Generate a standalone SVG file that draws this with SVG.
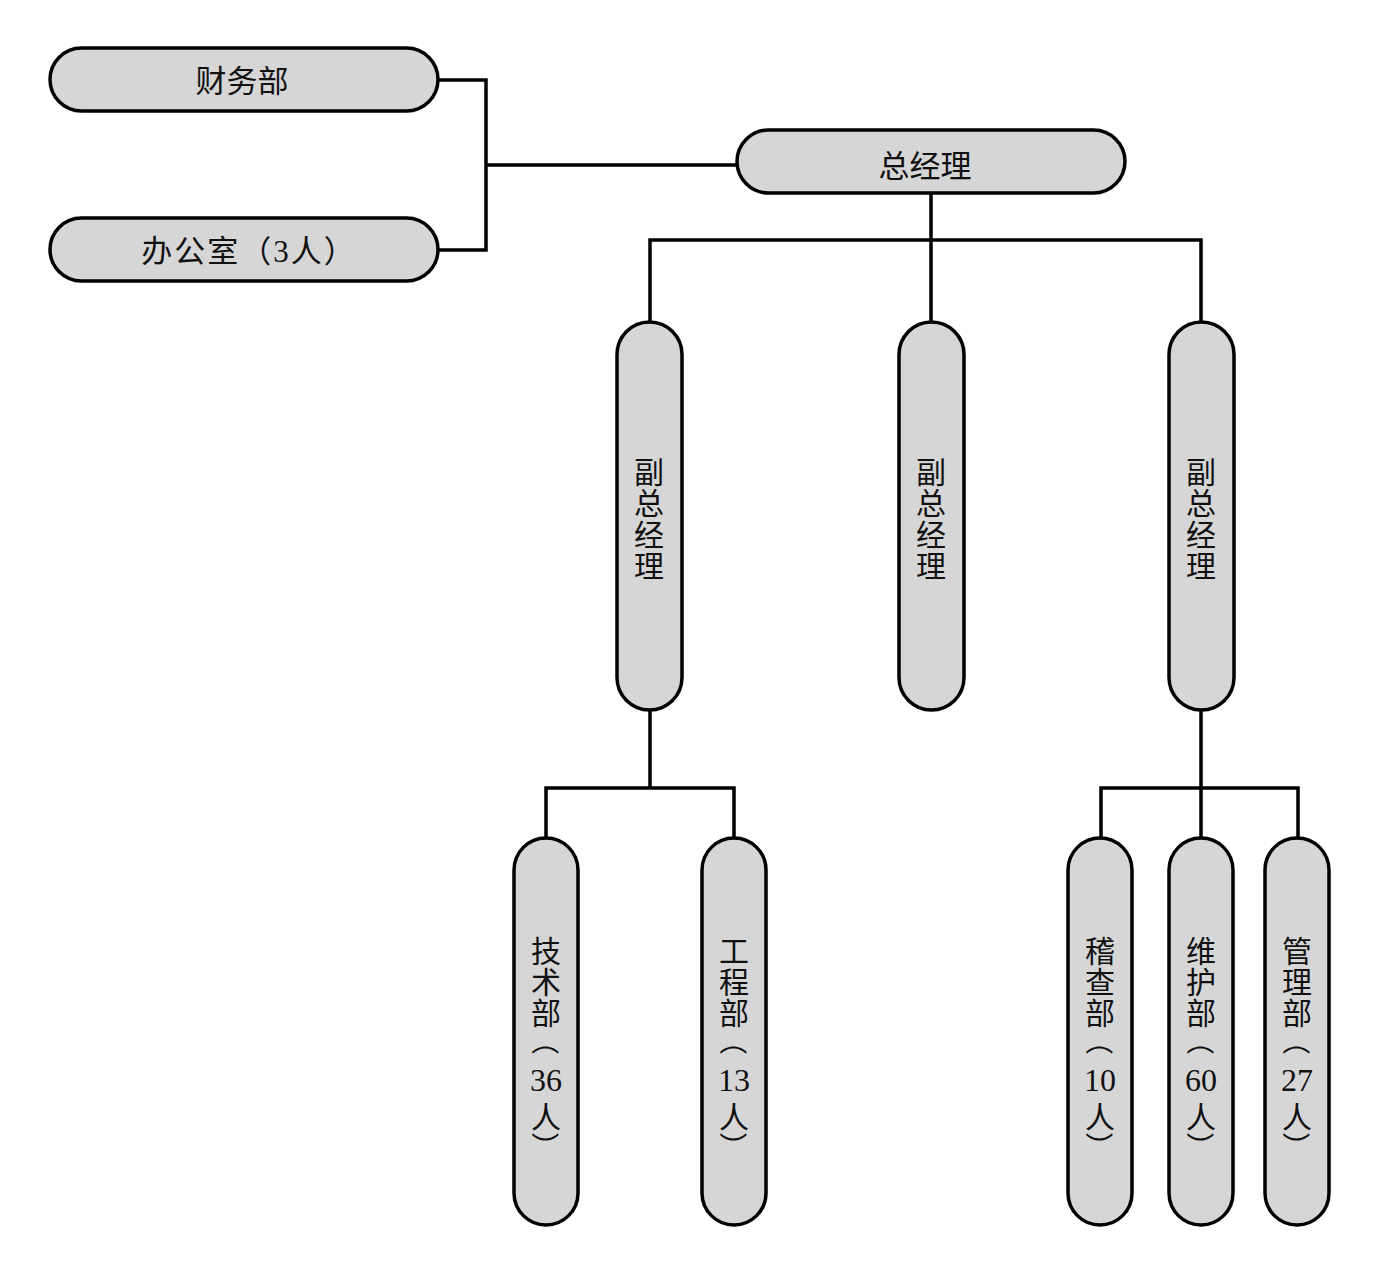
<svg xmlns="http://www.w3.org/2000/svg" width="1382" height="1264" viewBox="0 0 1382 1264">
<style>
.box{fill:#d6d6d6;stroke:#000;stroke-width:3.5}
.ln{fill:none;stroke:#000;stroke-width:3.5;stroke-linejoin:miter}
text{font-family:"Liberation Serif","Noto Sans CJK SC",serif;font-size:30px;fill:#111;text-anchor:middle;dominant-baseline:central}
.h{font-size:31px}
.d{font-family:"Liberation Serif",serif;font-size:32px}
.p{font-family:"Noto Sans CJK SC",sans-serif;font-size:28px}
</style>
<rect width="1382" height="1264" fill="#fff"/>
<g id="connectors">
<path class="ln" d="M438 80H486V250H438M486 165H737"/>
<path class="ln" d="M931 193V240M650 322V240H1201V322M931 240V322"/>
<path class="ln" d="M650 710V788M546 838V788H734V838"/>
<path class="ln" d="M1201 710V838M1101 838V788H1298V838"/>
</g>
<g id="n-caiwu"><rect class="box" x="50" y="48" width="388" height="63" rx="31.5"/><text class="h" x="242" y="81">财务部</text></g>
<g id="n-bangong"><rect class="box" x="50" y="218" width="388" height="63" rx="31.5"/><text class="h" x="249" y="251" letter-spacing="2">办公室（<tspan font-family="Liberation Serif">3</tspan>人）</text></g>
<g id="n-zong"><rect class="box" x="737" y="130" width="388" height="63" rx="31.5"/><text class="h" x="925" y="166">总经理</text></g>
<g id="n-vp1"><rect class="box" x="617" y="322" width="65" height="388" rx="32.5"/>
<text x="649" y="472">副</text><text x="649" y="503">总</text><text x="649" y="535">经</text><text x="649" y="566">理</text></g>
<g id="n-vp2"><rect class="box" x="899" y="322" width="65" height="388" rx="32.5"/>
<text x="931" y="472">副</text><text x="931" y="503">总</text><text x="931" y="535">经</text><text x="931" y="566">理</text></g>
<g id="n-vp3"><rect class="box" x="1169" y="322" width="65" height="388" rx="32.5"/>
<text x="1201" y="472">副</text><text x="1201" y="503">总</text><text x="1201" y="535">经</text><text x="1201" y="566">理</text></g>
<g id="n-jishu"><rect class="box" x="514" y="838" width="64" height="387" rx="32"/>
<text x="546" y="951">技</text><text x="546" y="982">术</text><text x="546" y="1013">部</text><text class="p" x="546" y="1041" transform="rotate(90 546 1041)">（</text><text class="d" x="546" y="1080">36</text><text x="546" y="1117">人</text><text class="p" x="546" y="1146" transform="rotate(90 546 1146)">）</text></g>
<g id="n-gongcheng"><rect class="box" x="702" y="838" width="64" height="387" rx="32"/>
<text x="734" y="951">工</text><text x="734" y="982">程</text><text x="734" y="1013">部</text><text class="p" x="734" y="1041" transform="rotate(90 734 1041)">（</text><text class="d" x="734" y="1080">13</text><text x="734" y="1117">人</text><text class="p" x="734" y="1146" transform="rotate(90 734 1146)">）</text></g>
<g id="n-jicha"><rect class="box" x="1068" y="838" width="64" height="387" rx="32"/>
<text x="1100" y="951">稽</text><text x="1100" y="982">查</text><text x="1100" y="1013">部</text><text class="p" x="1100" y="1041" transform="rotate(90 1100 1041)">（</text><text class="d" x="1100" y="1080">10</text><text x="1100" y="1117">人</text><text class="p" x="1100" y="1146" transform="rotate(90 1100 1146)">）</text></g>
<g id="n-weihu"><rect class="box" x="1169" y="838" width="64" height="387" rx="32"/>
<text x="1201" y="951">维</text><text x="1201" y="982">护</text><text x="1201" y="1013">部</text><text class="p" x="1201" y="1041" transform="rotate(90 1201 1041)">（</text><text class="d" x="1201" y="1080">60</text><text x="1201" y="1117">人</text><text class="p" x="1201" y="1146" transform="rotate(90 1201 1146)">）</text></g>
<g id="n-guanli"><rect class="box" x="1265" y="838" width="64" height="387" rx="32"/>
<text x="1297" y="951">管</text><text x="1297" y="982">理</text><text x="1297" y="1013">部</text><text class="p" x="1297" y="1041" transform="rotate(90 1297 1041)">（</text><text class="d" x="1297" y="1080">27</text><text x="1297" y="1117">人</text><text class="p" x="1297" y="1146" transform="rotate(90 1297 1146)">）</text></g>
</svg>
